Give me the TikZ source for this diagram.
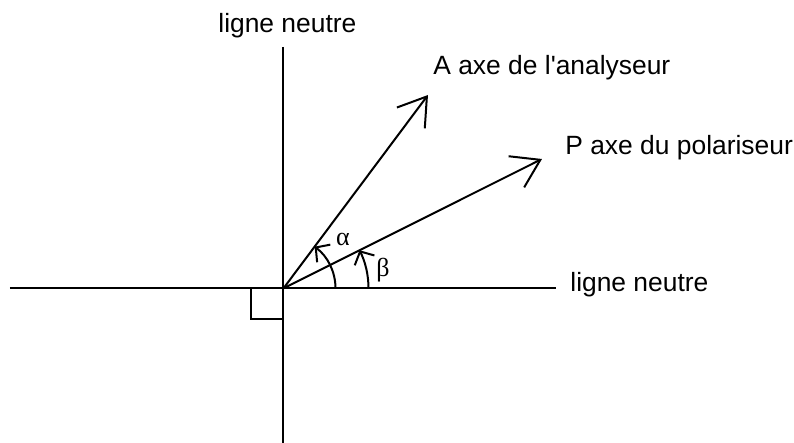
\documentclass[tikz,border=0pt]{standalone}
\usepackage{fontspec}
\setmainfont{Liberation Sans}
\newfontfamily\grec{Liberation Serif}
\usetikzlibrary{arrows.meta,positioning,calc}

\tikzset{
  axe/.style={line width=1pt},
  vec/.style={line width=1pt, -{Straight Barb[length=13.4pt,width=17.4pt,line width=1pt]}},
  ang/.style={line width=1pt, -{Straight Barb[length=5pt,width=11pt,line width=1pt]}},
  lbl/.style={font=\fontsize{13.2}{15}\selectfont, inner sep=0pt, anchor=base west},
  grk/.style={font=\grec\fontsize{13}{15}\selectfont},
}

\begin{document}
\begin{tikzpicture}[x=0.5pt,y=0.5pt]
  \useasboundingbox (-283.5,-154.7) rectangle (510.5,288.3);

  \coordinate (O) at (0,0);
  \coordinate (hg) at (-273.5,0);
  \coordinate (hd) at (272.5,0);
  \coordinate (vh) at (0,241.3);
  \coordinate (vb) at (0,-154.7);
  \coordinate (A) at (144.5,193.3);
  \coordinate (P) at (258.5,129.3);

  % lignes neutres
  \draw[axe] (hg) -- (hd);
  \draw[axe] (vh) -- (vb);
  \draw[axe] (-32,0) -- (-32,-31) -- (0,-31);

  % axes A et P
  \draw[vec] (O) -- (A);
  \draw[vec] (O) -- (P);

  % angles
  \draw[ang] (52,0) arc[start angle=0,end angle=53.2,radius=52];
  \draw[ang] (85,0) arc[start angle=0,end angle=26.6,radius=85];

  \node[lbl] (ln1) at (-65.5,255.3) {ligne neutre};
  \node[lbl] (ln2) at (286.5,-3.4) {ligne neutre};
  \node[lbl] (la) at (149.5,213.3) {A axe de l\textquotesingle analyseur};
  \node[lbl] (lp) at (281.5,133.3) {P axe du polariseur};
  \node[grk] (alpha) at (59.5,48.3) {α};
  \node[grk] (beta) at (99.5,18.3) {β};
\end{tikzpicture}
\end{document}
